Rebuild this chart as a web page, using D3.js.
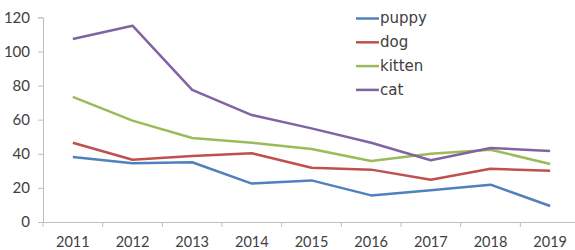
<!DOCTYPE html>
<html><head><meta charset="utf-8">
<script src="https://cdn.jsdelivr.net/npm/d3@7"></script>
<style>body{margin:0;background:#fff}svg{display:block}text{font-family:"Lato","DejaVu Sans",sans-serif}</style>
</head><body><svg id="c" width="575" height="250"></svg>
<script>
const years = ["2011","2012","2013","2014","2015","2016","2017","2018","2019"];
const seriesNames = ["puppy","dog","kitten","cat"];
const puppy = [38.1,34.4,35.0,22.5,24.4,15.6,18.6,21.9,9.4];
const dog = [46.5,36.5,38.7,40.3,31.8,30.7,24.8,31.2,30.1];
const kitten = [73.4,59.4,49.2,46.5,42.8,35.8,40.0,42.4,34.0];
const cat = [107.3,115.1,77.4,62.7,54.9,46.5,36.2,43.4,41.6];
const yTicks = [0,20,40,60,80,100,120];
const colors = ["#4F81BD","#C0504D","#9BBB59","#8064A2"];
const seriesValues = [puppy,dog,kitten,cat];

const svg = d3.select("#c");
const x = d3.scaleBand().domain(years).range([43,580]);
const y = d3.scaleLinear().domain([0,120]).range([222,17.3]);

const yAxis = svg.append("g").attr("transform","translate(43,0)")
  .call(d3.axisLeft(y).tickValues(yTicks).tickSize(5).tickPadding(8));
const xAxis = svg.append("g").attr("transform","translate(0,222)")
  .call(d3.axisBottom(x).tickSize(0).tickPadding(15));
[yAxis,xAxis].forEach(a=>{
  a.select(".domain").attr("stroke","#bfbfbf");
  a.selectAll(".tick line").attr("stroke","#bfbfbf");
  a.selectAll("text").attr("fill","#404040").style("font-size","15px");
});
xAxis.selectAll("text").style("font-size","14.5px");
svg.append("g").selectAll("line").data(years.concat(["end"])).join("line")
  .attr("x1",(d,i)=>x.range()[0]+i*x.step()).attr("x2",(d,i)=>x.range()[0]+i*x.step())
  .attr("y1",222).attr("y2",227).attr("stroke","#bfbfbf");

const line = d3.line().x((d,i)=>x(years[i])+x.bandwidth()/2).y(d=>y(d));
seriesValues.forEach((s,k)=>{
  svg.append("path").datum(s).attr("d",line).attr("fill","none")
    .attr("stroke",colors[k]).attr("stroke-width",2.5).attr("stroke-linejoin","round");
});

const leg = svg.append("g");
seriesNames.forEach((n,k)=>{
  const ly = 18.5 + k*23.8;
  leg.append("line").attr("x1",356).attr("x2",379).attr("y1",ly).attr("y2",ly)
    .attr("stroke",colors[k]).attr("stroke-width",2.5);
  leg.append("text").attr("x",380).attr("y",ly+4.8)
    .attr("fill","#404040").style("font-family","'DejaVu Sans',sans-serif").style("font-size","15px").text(n);
});
</script></body></html>
